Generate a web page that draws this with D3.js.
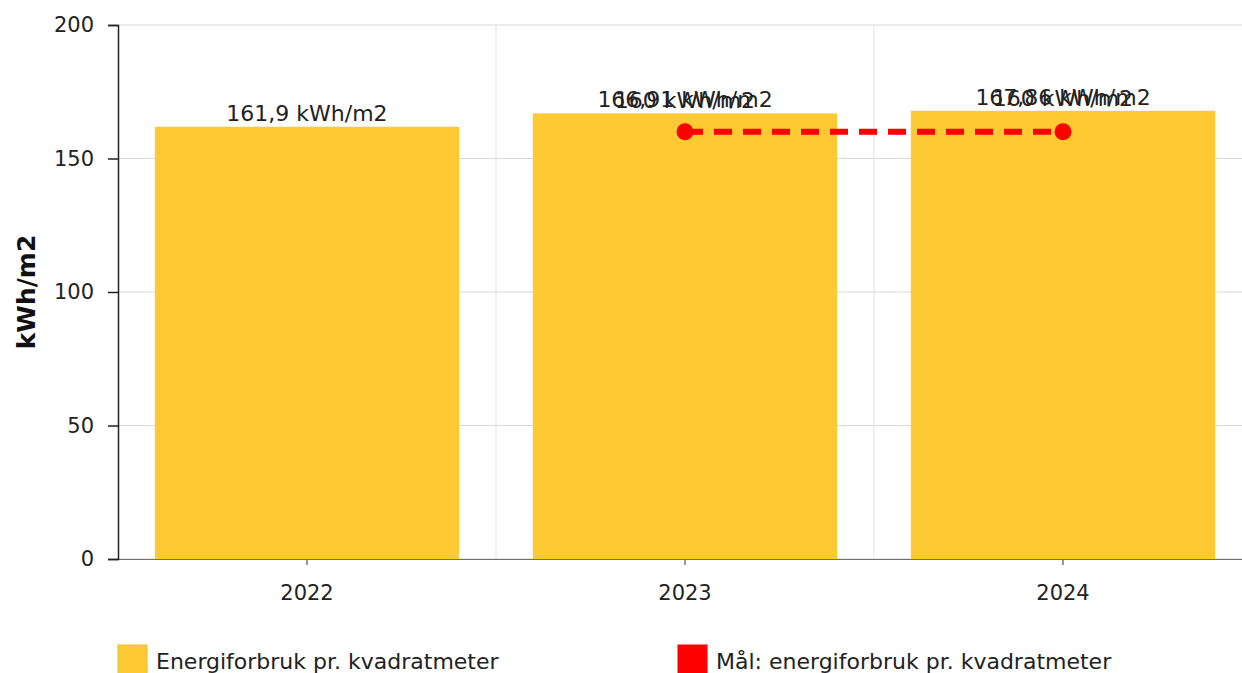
<!DOCTYPE html>
<html>
<head>
<meta charset="utf-8">
<script src="https://cdn.jsdelivr.net/npm/d3@7/dist/d3.min.js"></script>
<style>
  body { margin: 0; background: #fff; }
  svg { display: block; font-family: "DejaVu Sans", Verdana, sans-serif; }
</style>
</head>
<body>
<svg id="chart" width="1242" height="673"></svg>
<script>
// chart data
var years = ['2022', '2023', '2024'];
var usage = [161.9, 166.91, 167.86];
var usageLabels = ['161,9 kWh/m2', '166,91 kWh/m2', '167,86 kWh/m2'];
var targetYears = ['2023', '2024'];
var target = [160, 160];
var targetLabels = ['160 kWh/m2', '160 kWh/m2'];
var yTicks = [0, 50, 100, 150, 200];
var legendNames = ['Energiforbruk pr. kvadratmeter', 'Mål: energiforbruk pr. kvadratmeter'];

var barColor = '#fdca33',
    lineColor = '#ff0000';

var svg = d3.select('#chart');
var margin = {left: 118, top: 25, bottom: 559};
var plotRight = 1252;

var x = d3.scaleBand().domain(years).range([margin.left, plotRight]).padding(0);
var y = d3.scaleLinear().domain([0, 200]).range([margin.bottom, margin.top]);
var barW = x.bandwidth() * 0.805;

// horizontal grid
svg.append('g').selectAll('line').data(yTicks).enter().append('line')
  .attr('x1', margin.left).attr('x2', plotRight)
  .attr('y1', function(d) { return y(d); }).attr('y2', function(d) { return y(d); })
  .attr('stroke', '#d9d9d9').attr('stroke-width', 1);

// vertical grid at band edges
svg.append('g').selectAll('line').data(years.slice(1)).enter().append('line')
  .attr('x1', function(d) { return x(d); }).attr('x2', function(d) { return x(d); })
  .attr('y1', margin.top).attr('y2', margin.bottom)
  .attr('stroke', '#e3e3e3').attr('stroke-width', 1);

// bars
svg.append('g').selectAll('rect').data(usage).enter().append('rect')
  .attr('x', function(d, i) { return x(years[i]) + (x.bandwidth() - barW) / 2; })
  .attr('y', function(d) { return y(d); })
  .attr('width', barW)
  .attr('height', function(d) { return y(0) - y(d); })
  .attr('fill', barColor);

// x axis
var xAxis = svg.append('g').attr('transform', 'translate(0,' + margin.bottom + ')')
  .call(d3.axisBottom(x).tickSize(6).tickPadding(20));
xAxis.select('.domain').remove();
xAxis.selectAll('line').attr('stroke', '#333');
xAxis.selectAll('text').attr('font-size', 21).attr('fill', '#222')
  .attr('font-family', '"DejaVu Sans", sans-serif');
svg.append('line')
  .attr('x1', margin.left).attr('x2', plotRight)
  .attr('y1', margin.bottom + 0.5).attr('y2', margin.bottom + 0.5)
  .attr('stroke', '#6f6f6f');

// y axis
var yAxis = svg.append('g').attr('transform', 'translate(' + margin.left + ',0)')
  .call(d3.axisLeft(y).tickValues(yTicks).tickSize(10).tickPadding(14));
yAxis.select('.domain').attr('stroke', '#222').attr('stroke-width', 1.5);
yAxis.selectAll('line').attr('stroke', '#222').attr('stroke-width', 1.5);
yAxis.selectAll('text').attr('font-size', 21).attr('fill', '#222')
  .attr('font-family', '"DejaVu Sans", sans-serif');

svg.append('text')
  .attr('transform', 'translate(35,' + ((margin.top + margin.bottom) / 2) + ') rotate(-90)')
  .attr('text-anchor', 'middle')
  .attr('font-size', 25).attr('font-weight', 'bold').attr('fill', '#111')
  .text('kWh/m2');

// bar labels
svg.append('g').selectAll('text').data(usage).enter().append('text')
  .attr('x', function(d, i) { return x(years[i]) + x.bandwidth() / 2; })
  .attr('y', function(d) { return y(d) - 6; })
  .attr('text-anchor', 'middle')
  .attr('font-size', 22).attr('fill', '#222')
  .text(function(d, i) { return usageLabels[i]; });

// target line
var cx = function(d, i) { return x(targetYears[i]) + x.bandwidth() / 2; };
svg.append('path')
  .datum(target)
  .attr('d', d3.line().x(cx).y(function(d) { return y(d); }))
  .attr('fill', 'none')
  .attr('stroke', lineColor)
  .attr('stroke-width', 6)
  .attr('stroke-dasharray', '18,11');
svg.append('g').selectAll('circle').data(target).enter().append('circle')
  .attr('cx', cx).attr('cy', function(d) { return y(d); })
  .attr('r', 8.5).attr('fill', lineColor);

// target labels (sit on top of the bar label)
svg.append('g').selectAll('text').data(target).enter().append('text')
  .attr('x', cx)
  .attr('y', function(d, i) {
    var bar = usage[years.indexOf(targetYears[i])];
    return y(Math.max(bar, d)) - 5;
  })
  .attr('text-anchor', 'middle')
  .attr('font-size', 22).attr('fill', '#222')
  .text(function(d, i) { return targetLabels[i]; });

// legend
var legend = svg.append('g').selectAll('g').data(legendNames).enter().append('g')
  .attr('transform', function(d, i) { return 'translate(' + (118 + i * 560) + ',645)'; });
legend.append('rect')
  .attr('width', 29).attr('height', 30)
  .attr('fill', function(d, i) { return i === 0 ? barColor : lineColor; })
  .attr('stroke', function(d, i) { return i === 0 ? '#f3bd22' : lineColor; });
legend.append('text')
  .attr('x', 38).attr('y', 24)
  .attr('font-size', 22).attr('fill', '#222')
  .text(function(d) { return d; });
</script>
</body>
</html>
